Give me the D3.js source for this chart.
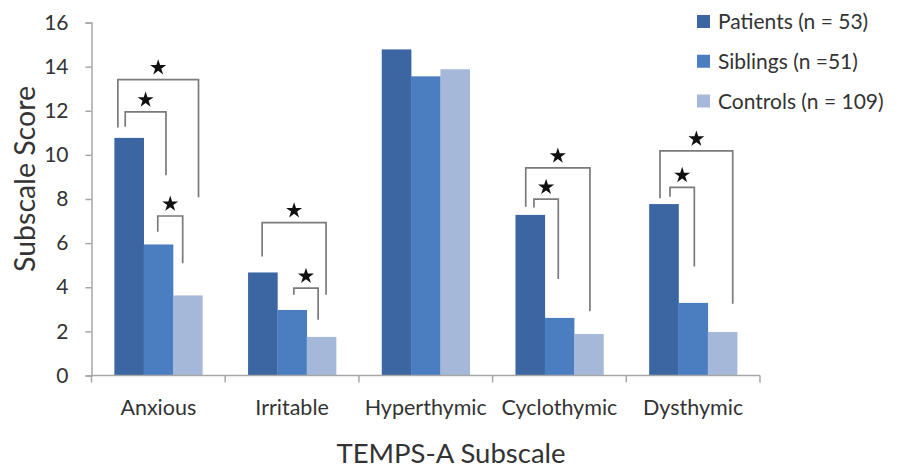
<!DOCTYPE html>
<html>
<head>
<meta charset="utf-8">
<script src="https://cdn.jsdelivr.net/npm/d3@7"></script>
<style>
  html, body { margin: 0; padding: 0; background: #fff; }
  svg { display: block; font-family: Lato, "Open Sans", sans-serif; }
  .txt { fill: #333; }
</style>
</head>
<body>
<div id="chart"></div>
<script>
const categories = ["Anxious", "Irritable", "Hyperthymic", "Cyclothymic", "Dysthymic"];
const groups = ["Patients (n = 53)", "Siblings (n =51)", "Controls (n = 109)"];
const patients = [10.77, 4.67, 14.78, 7.28, 7.77];
const siblings = [5.94, 2.97, 13.56, 2.61, 3.29];
const controls = [3.63, 1.75, 13.88, 1.88, 1.97];
const yTicks = [0, 2, 4, 6, 8, 10, 12, 14, 16];
const colors = ["#3b66a1", "#4a7ec0", "#a5b8d9"];

// significance brackets: legs given in bar units (0..3 across a group), heights in score units
const brackets = [
  { cat: "Anxious", left: 0.12, right: 2.87, top: 13.41, leftEnd: 11.24, rightEnd: 8.08 },
  { cat: "Anxious", left: 0.37, right: 1.76, top: 11.95, leftEnd: 11.27, rightEnd: 9.08 },
  { cat: "Anxious", left: 1.48, right: 2.33, top: 7.23, leftEnd: 6.52, rightEnd: 5.09 },
  { cat: "Irritable", left: 0.48, right: 2.66, top: 6.93, leftEnd: 5.39, rightEnd: 3.66 },
  { cat: "Irritable", left: 1.56, right: 2.39, top: 3.96, leftEnd: 3.66, rightEnd: 2.53 },
  { cat: "Cyclothymic", left: 0.35, right: 2.54, top: 9.41, leftEnd: 7.65, rightEnd: 2.91 },
  { cat: "Cyclothymic", left: 0.63, right: 1.46, top: 7.99, leftEnd: 7.62, rightEnd: 4.37 },
  { cat: "Dysthymic", left: 0.37, right: 2.85, top: 10.18, leftEnd: 8.03, rightEnd: 3.25 },
  { cat: "Dysthymic", left: 0.71, right: 1.54, top: 8.53, leftEnd: 8.10, rightEnd: 4.94 },
];

const width = 898, height = 475;
const series = [patients, siblings, controls];
const rows = categories.map((c, i) => ({ cat: c, values: series.map((s) => s[i]) }));

const svg = d3.select("#chart").append("svg")
  .attr("width", width).attr("height", height);

const x = d3.scaleBand().domain(categories).range([91.5, 760]).paddingInner(0).paddingOuter(0);
const xSub = d3.scaleBand().domain(d3.range(groups.length)).range([0, x.bandwidth()]).paddingOuter(0.78);
const y = d3.scaleLinear().domain([0, 16]).range([375.5, 22.5]);
const unit = d3.scaleLinear().domain([0, 3]).range([xSub(0), xSub(2) + xSub.bandwidth()]);

const axisColor = "#a6a6a6";

// bars
svg.append("g").selectAll("g").data(rows).join("g")
  .attr("transform", (d) => `translate(${x(d.cat)},0)`)
  .selectAll("rect").data((d) => d.values).join("rect")
  .attr("x", (v, i) => xSub(i))
  .attr("width", xSub.bandwidth() + 0.3)
  .attr("y", (v) => y(v))
  .attr("height", (v) => y(0) - y(v))
  .attr("fill", (v, i) => colors[i]);

// y axis
svg.append("g")
  .attr("transform", `translate(${x.range()[0]},0)`)
  .call(d3.axisLeft(y).tickValues(yTicks).tickSize(6).tickPadding(17).tickFormat(d3.format("d")))
  .call((g) => g.select(".domain").attr("stroke", axisColor).attr("stroke-width", 1.5))
  .call((g) => g.selectAll(".tick line").attr("stroke", axisColor).attr("stroke-width", 1.5))
  .call((g) => g.selectAll("text").attr("class", "txt").attr("font-size", 21)
    .attr("font-family", "Lato, sans-serif"));

// x axis: ticks at category boundaries
const xAxis = svg.append("g").attr("transform", `translate(0,${y(0)})`);
xAxis.append("line")
  .attr("x1", x.range()[0]).attr("x2", x.range()[1])
  .attr("stroke", axisColor).attr("stroke-width", 1.5);
xAxis.selectAll("line.tick").data(categories.concat([null])).join("line")
  .attr("class", "tick")
  .attr("x1", (d) => d === null ? x.range()[1] : x(d))
  .attr("x2", (d) => d === null ? x.range()[1] : x(d))
  .attr("y1", 0).attr("y2", 7)
  .attr("stroke", axisColor).attr("stroke-width", 1.5);
xAxis.selectAll("text").data(categories).join("text")
  .attr("class", "txt")
  .attr("x", (d) => x(d) + x.bandwidth() / 2)
  .attr("y", 39)
  .attr("text-anchor", "middle")
  .attr("font-size", 21.5)
  .text((d) => d);

// brackets
const bg = svg.append("g");
brackets.forEach((b) => {
  const x0 = x(b.cat) + unit(b.left);
  const x1 = x(b.cat) + unit(b.right);
  const path = d3.path();
  path.moveTo(x0, y(b.leftEnd));
  path.lineTo(x0, y(b.top));
  path.lineTo(x1, y(b.top));
  path.lineTo(x1, y(b.rightEnd));
  bg.append("path").attr("d", path.toString())
    .attr("fill", "none").attr("stroke", "#7a7a7a").attr("stroke-width", 1.7);
  bg.append("path")
    .attr("d", d3.symbol(d3.symbolStar, 80)())
    .attr("transform", `translate(${(x0 + x1) / 2},${y(b.top) - 12})`)
    .attr("fill", "#111");
});

// axis titles
svg.append("text").attr("class", "txt")
  .attr("transform", `translate(35,179) rotate(-90)`)
  .attr("text-anchor", "middle")
  .attr("font-size", 28.5)
  .text("Subscale Score");

svg.append("text").attr("class", "txt")
  .attr("x", 451).attr("y", 463)
  .attr("text-anchor", "middle")
  .attr("font-size", 27.5)
  .text("TEMPS-A Subscale");

// legend
const legend = svg.append("g").attr("transform", "translate(697,0)");
const ly = d3.scalePoint().domain(d3.range(groups.length)).range([21.5, 101]);
const items = legend.selectAll("g").data(groups).join("g")
  .attr("transform", (d, i) => `translate(0,${ly(i)})`);
items.append("rect")
  .attr("x", 0).attr("y", -6.5).attr("width", 13).attr("height", 13)
  .attr("fill", (d, i) => colors[i]);
items.append("text").attr("class", "txt")
  .attr("x", 21).attr("y", 7.5)
  .attr("font-size", 21)
  .text((d) => d);
</script>
</body>
</html>
